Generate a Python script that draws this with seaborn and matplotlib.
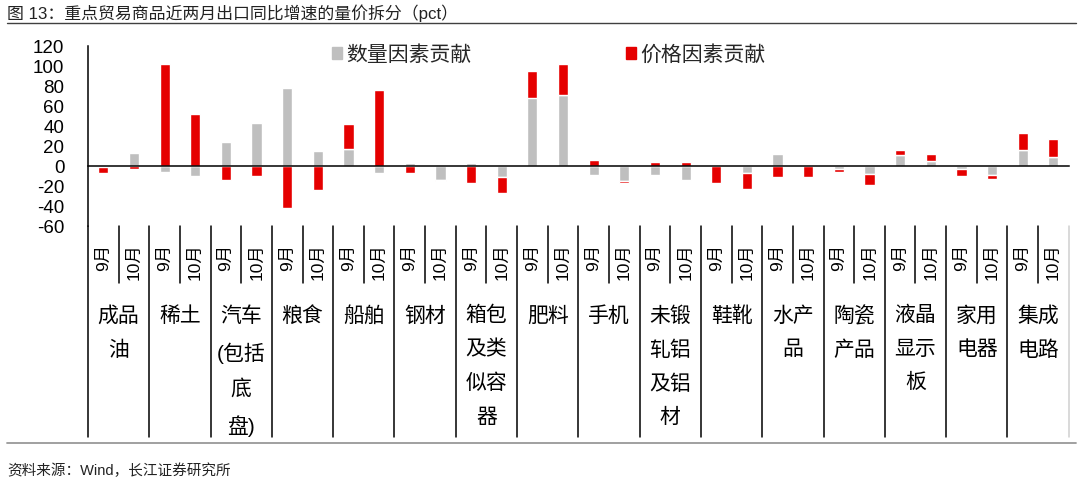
import matplotlib
matplotlib.use("Agg")
import matplotlib.pyplot as plt
from matplotlib.patches import Patch
import numpy as np
import seaborn as sns

# 16 commodities x 2 months (Sep / Oct), contribution in pct
CATEGORIES = ["成品\n油", "稀土", "汽车\n(包括\n底\n盘)", "粮食", "船舶", "钢材",
              "箱包\n及类\n似容\n器", "肥料", "手机", "未锻\n轧铝\n及铝\n材", "鞋靴",
              "水产\n品", "陶瓷\n产品", "液晶\n显示\n板", "家用\n电器", "集成\n电路"]
MONTHS = ["9月", "10月"]

QTY = [-0.5, 13.0, -5.5, -9.5, 24.5, 43.0, 78.0, 15.5, 17.5, -7.0,
       3.5, -14.0, 3.5, -11.0, 68.5, 71.0, -8.5, -15.0, -8.5, -13.5,
       1.5, -7.0, 12.0, -0.3, -2.5, -7.7, 11.3, 4.7, -3.3, -9.3,
       16.3, 9.0]
PRICE = [-6.0, -2.5, 102.0, 51.5, -14.0, -9.5, -42.0, -24.0, 25.0, 75.5,
         -6.8, -1.0, -16.5, -16.0, 27.0, 31.0, 6.0, -1.5, 4.5, 4.5,
         -16.5, -16.0, -11.0, -11.0, -3.0, -11.0, 5.0, 7.3, -7.0, -4.0,
         16.7, 18.3]

GRAY = "#BFBFBF"
RED = "#E50000"

bars = [f"{c}|{m}" for c in CATEGORIES for m in MONTHS]
qty = np.array(QTY)
price = np.array(PRICE)
# excel-style stacking: same sign stacks on quantity, otherwise starts from 0
price_base = np.where(np.sign(qty) == np.sign(price), qty, 0.0)

sns.set_theme(style="white")
plt.rcParams["font.family"] = ["Liberation Sans", "Noto Sans CJK SC"]
plt.rcParams["axes.unicode_minus"] = False

fig = plt.figure(figsize=(10.8, 4.81), dpi=100)
ax = fig.add_axes([88 / 1080, 254 / 481, 980.7 / 1080, 180 / 481])

sns.barplot(x=bars, y=qty, order=bars, color=GRAY, width=1 / 3,
            errorbar=None, saturation=1, ax=ax)
sns.barplot(x=bars, y=price, order=bars, color=RED, width=1 / 3,
            errorbar=None, saturation=1, bottom=price_base, ax=ax)

n = len(bars)
ax.set_xlim(-0.5, n - 0.5)
ax.set_ylim(-60, 120)
ax.set_yticks(range(-60, 121, 20))
ax.tick_params(axis="y", direction="in", length=4.5, width=1, color="black",
               labelsize=13.5, pad=17, labelcolor="black")
ax.set_xticks([])
ax.set_xticks(np.arange(-0.5, n, 1.0), minor=True)
ax.tick_params(axis="x", which="minor", direction="in", length=3.6, width=1,
               color="black", labelbottom=False)
ax.set_xlabel("")
ax.set_ylabel("")

for side in ["top", "right"]:
    ax.spines[side].set_visible(False)
ax.spines["bottom"].set_position(("data", 0))
for side in ["bottom", "left"]:
    ax.spines[side].set_color("black")
    ax.spines[side].set_linewidth(1.1)

# category table below the plot
trans = ax.get_xaxis_transform()
for k in range(len(CATEGORIES) + 1):
    xb = 2 * k - 0.5
    col = "black" if k < len(CATEGORIES) else "#D0D0D0"
    ax.plot([xb, xb], [0, -1.172], transform=trans, color=col, lw=1.1,
            clip_on=False)
for k, cat in enumerate(CATEGORIES):
    ax.plot([2 * k + 0.5] * 2, [0, -0.317], transform=trans, color="black",
            lw=1.1, clip_on=False)
    for j, m in enumerate(MONTHS):
        ax.text(2 * k + j, -0.092, m, transform=trans, rotation=90,
                ha="center", va="top", fontsize=12.5, color="black")
    ax.text(2 * k + 0.5, -0.439, cat, transform=trans, ha="center", va="top",
            multialignment="center", fontsize=15, linespacing=1.95,
            color="black")

handles = [Patch(color=GRAY, label="数量因素贡献"),
           Patch(color=RED, label="价格因素贡献")]
ax.legend(handles=handles, loc="center", bbox_to_anchor=(0.47, 0.955),
          ncol=2, frameon=False, fontsize=15, handlelength=0.5,
          handleheight=0.5, handletextpad=0.2, columnspacing=7.4)

# title, source and rules
fig.text(7 / 1080, 1 - 13 / 481, "图 13：重点贸易商品近两月出口同比增速的量价拆分（pct）",
         ha="left", va="center", fontsize=12.2, color="#222222")
fig.add_artist(plt.Line2D([7 / 1080, 1076 / 1080], [1 - 24 / 481] * 2,
                          color="#404040", lw=1))
fig.add_artist(plt.Line2D([7 / 1080, 1076 / 1080], [1 - 444 / 481] * 2,
                          color="#999999", lw=1.3))
fig.text(7 / 1080, 1 - 471 / 481, "资料来源：Wind，长江证券研究所",
         ha="left", va="center", fontsize=10.5, color="#222222")

fig.savefig("out.png", dpi=100)
